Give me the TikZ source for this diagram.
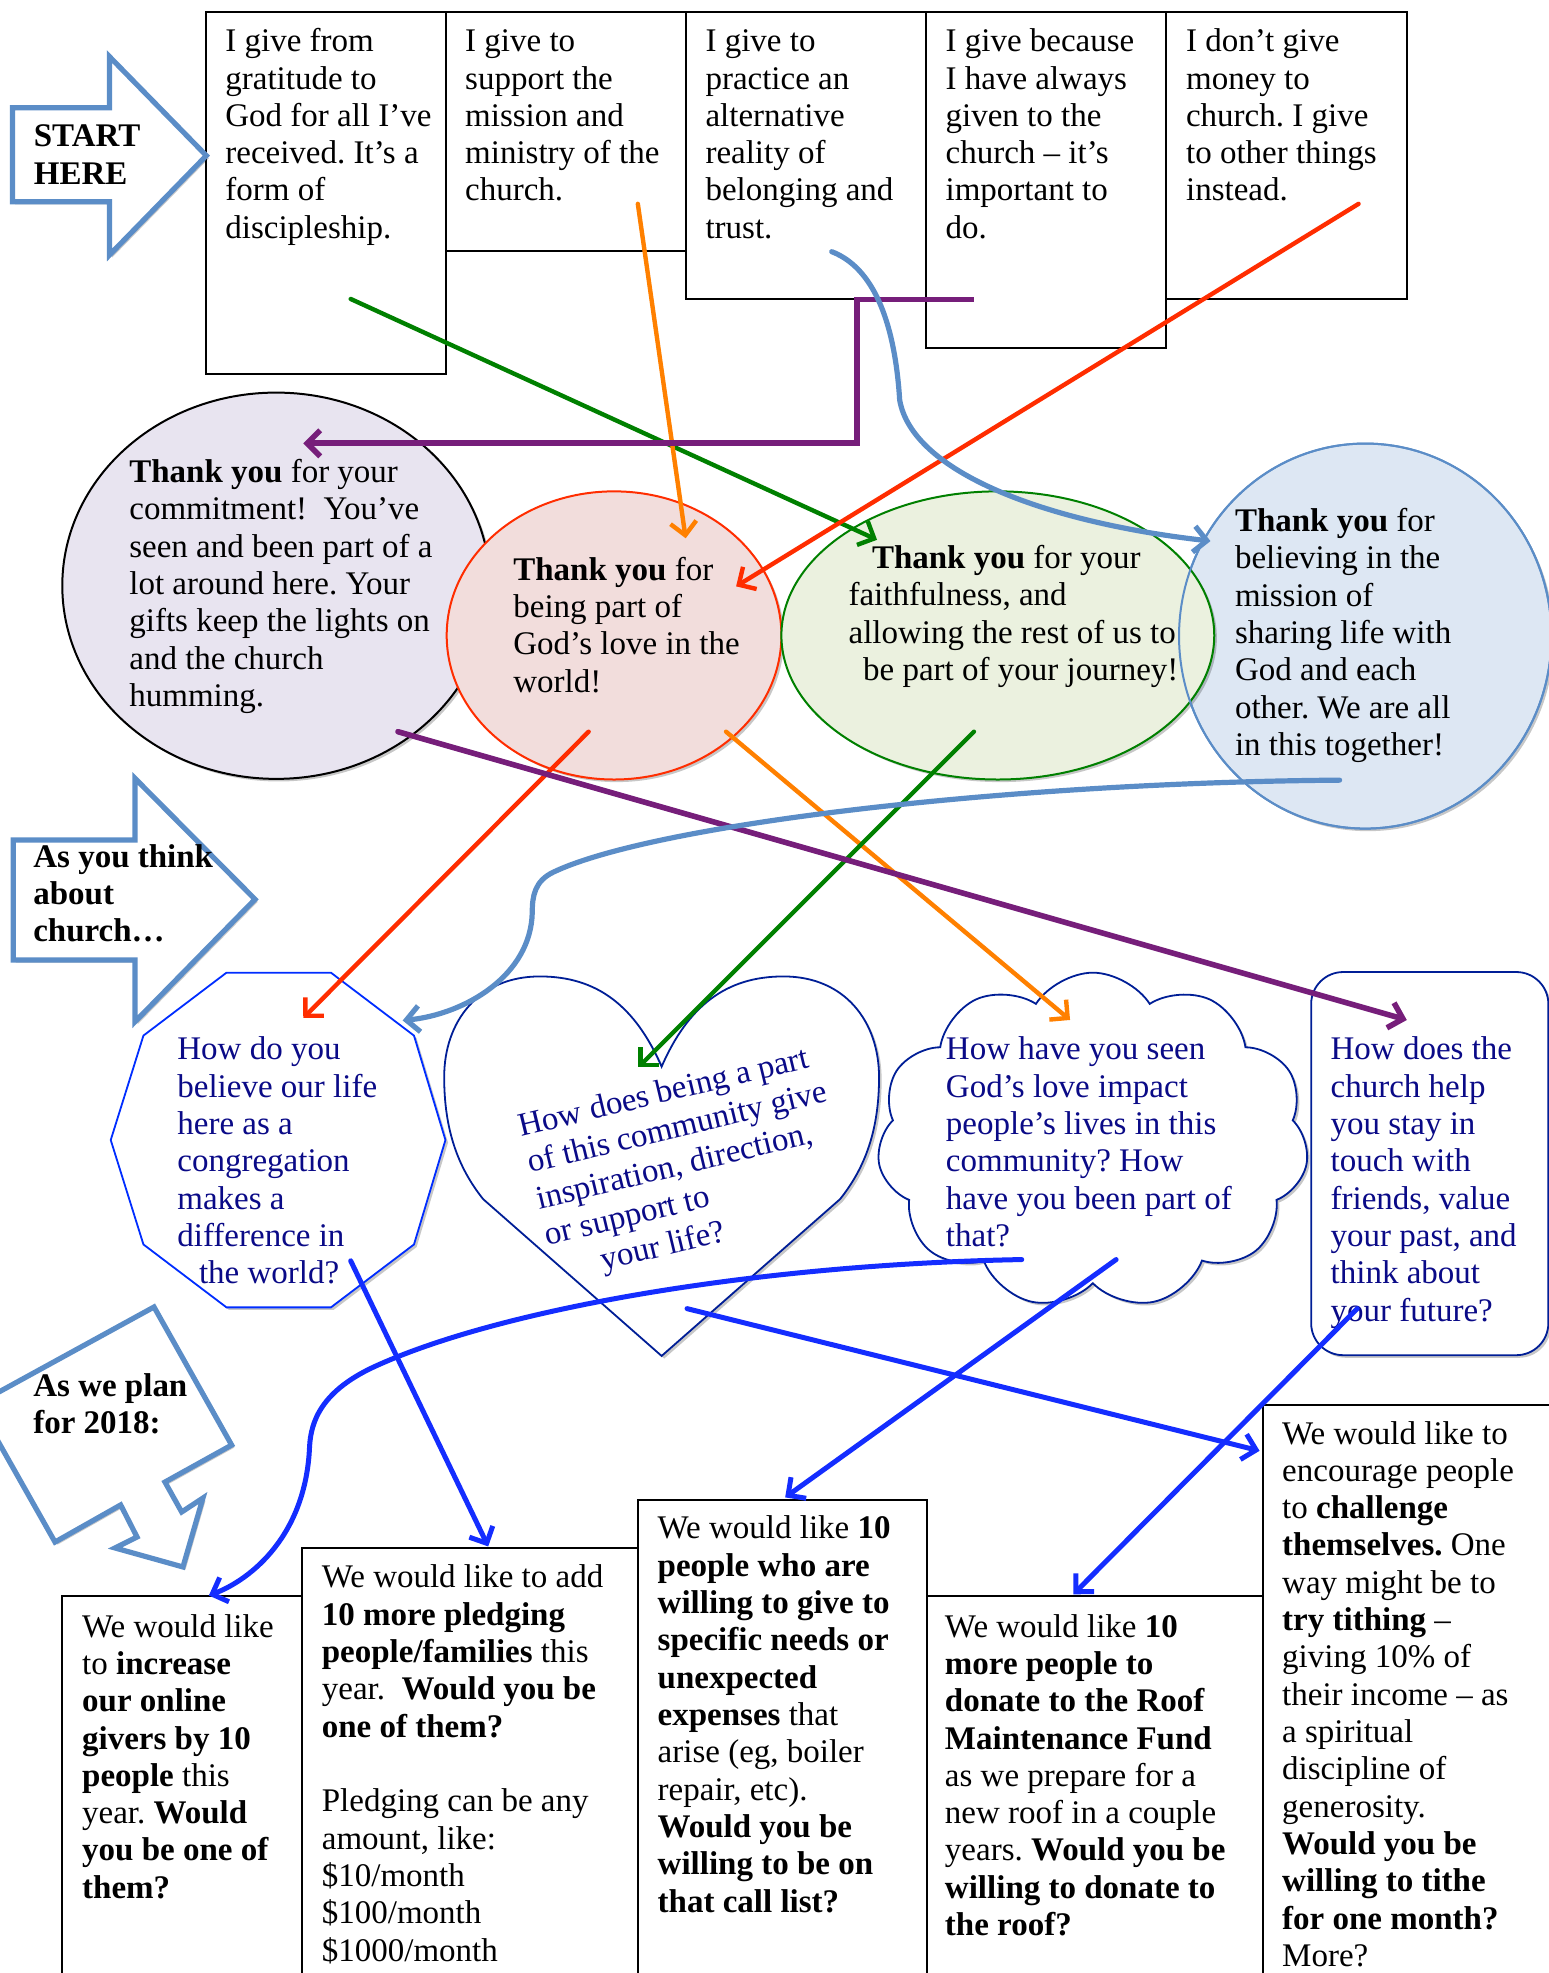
\documentclass[tikz,border=0pt]{standalone}
\usepackage{fontspec}
\setmainfont{Liberation Serif}
\usetikzlibrary{arrows.meta,shapes.geometric,shapes.symbols,shadows}
\definecolor{lblue}{RGB}{91,141,199}
\definecolor{ered}{RGB}{255,45,0}
\definecolor{eorange}{RGB}{255,128,0}
\definecolor{egreen}{RGB}{0,128,0}
\definecolor{epurple}{RGB}{118,30,122}
\definecolor{bblue}{RGB}{20,45,255}
\definecolor{navyq}{RGB}{10,10,135}
\definecolor{navyb}{RGB}{0,30,150}
\definecolor{octb}{RGB}{0,45,255}
\definecolor{fillA}{RGB}{232,228,240}
\definecolor{fillB}{RGB}{242,221,220}
\definecolor{fillC}{RGB}{235,241,223}
\definecolor{fillD}{RGB}{221,231,243}
\frenchspacing
\newcommand\tb[2]{\parbox[t]{#1}{\raggedright\fontsize{16.5pt}{18.66pt}\selectfont #2}}
\newcommand\bx[5]{\node[boxst, minimum width={(#4-#2)*0.6292pt}, minimum height={(#5-#3)*0.6292pt}] (#1) at ({(#2+#4)/2},{(#3+#5)/2}) {};}
\newcommand\el[6]{\node[ellst, draw=#5, fill=#6, minimum width={#4*0.6292pt}, minimum height={#3*0.6292pt}] (#1) at (#2) {};}
\tikzset{
  boxst/.style={draw=black, line width=1pt, fill=white, inner sep=0pt, outer sep=0pt, rectangle},
  ellst/.style={ellipse, line width=1pt, inner sep=0pt, outer sep=0pt, shad},
  shad/.style={drop shadow={shadow xshift=1.3pt, shadow yshift=-1.3pt, opacity=0.22, fill=black}},
  tx/.style={anchor=base west, inner sep=0pt, outer sep=0pt},
  qtx/.style={tx, text=navyq},
  bigarrow/.style={draw=lblue, line width=2.6pt, fill=white, line join=miter, shad},
  conn/.style={line width=2.2pt, -{Straight Barb[length=6.5pt,width=13pt]}, line cap=round, line join=round},
}
\begin{document}
\begin{tikzpicture}[x=0.6292pt,y=-0.6292pt]
\useasboundingbox (0,0) rectangle (1231,1568);
\begin{scope}
\clip (0,0) rectangle (1231,1568);

% ---- top boxes ----
\bx{B1}{163.7}{9.5}{354.7}{297.5}
\bx{B2}{354.7}{9.5}{544.9}{199.7}
\bx{B3}{544.9}{9.5}{736.1}{237.9}
\bx{B4}{736.1}{9.5}{927}{276.3}
\bx{B5}{927}{9.5}{1118}{237.9}

% ---- big arrows ----
\draw[bigarrow] (9.9,85.6) -- (87,85.6) -- (87,45) -- (164,123.7) -- (87,202.7) -- (87,160.3) -- (9.9,160.3) -- cycle;
\draw[bigarrow] (10.6,667.6) -- (107.3,667.6) -- (107.3,618.6) -- (202.7,714.7) -- (107.3,812) -- (107.3,763) -- (10.6,763) -- cycle;
\draw[bigarrow] (-18.3,1115.8) -- (122.4,1038.7) -- (184.1,1148.4) -- (131.1,1177.8) -- (144.4,1201.6) -- (161.3,1190.5) -- (145.4,1245.3) -- (91.4,1230.2) -- (108.9,1221.5) -- (95.9,1196.0) -- (43.7,1225.5) -- cycle;

% ---- thank-you ellipses ----
\el{E1}{219.5,465.5}{307}{340}{black}{fillA}
\el{E2}{488,505}{229}{266}{ered}{fillB}
\el{E4}{1085,505.5}{306}{296}{lblue}{fillD}
\el{E3}{793,505}{229}{344}{egreen}{fillC}
\draw[lblue, line width=1pt] (E4.center) ellipse [x radius=148, y radius=153];

% ---- question shapes ----
\draw[octb, line width=0.9pt, fill=white, shad] (180,773) -- (263,773) -- (329,823) -- (354,906) -- (329,989) -- (263,1039) -- (180,1039) -- (114,989) -- (88,906) -- (114,823) -- cycle;
\coordinate (OCT) at (221,906);
\draw[navyb, line width=0.9pt, fill=white, shad] (525.8,847.7) .. controls (505,800) and (475,776) .. (429,776) .. controls (380,776) and (353,812) .. (353,856) .. controls (353,898) and (364,928) .. (384,953) -- (525.8,1077.6) -- (667.6,953) .. controls (687.6,928) and (698.6,898) .. (698.6,856) .. controls (698.6,812) and (671.6,776) .. (622.6,776) .. controls (576.6,776) and (546.6,800) .. cycle;
\coordinate (HEART) at (525.8,930);
\node[cloud, cloud puffs=11, cloud puff arc=115, aspect=1.28, draw=navyb, line width=0.9pt, fill=white, shad, minimum width=343*0.6292pt, minimum height=267*0.6292pt, inner sep=0pt] (CLD) at (868.5,906.5) {};
\draw[navyb, line width=0.9pt, fill=white, rounded corners=16pt, shad] (1042,772.5) rectangle (1230.5,1077);
\coordinate (RR) at (1136,925);

% ---- bottom boxes ----
\bx{C1}{49.4}{1268}{240}{1575}
\bx{C2}{240}{1230.5}{507.3}{1575}
\bx{C3}{507.3}{1192.3}{736.5}{1575}
\bx{C4}{736.5}{1268}{1003.4}{1575}
\bx{C5}{1003.4}{1116.3}{1235}{1575}

% ---- texts ----
\node[tx] (tS) at (26.9,116.6) {\tb{200pt}{\bfseries START\\HERE}};
\node[tx] (tT) at (26.5,689.3) {\tb{200pt}{\bfseries As you think\\about\\church…}};
\node[tx] (tP) at (26.5,1109.5) {\tb{200pt}{\bfseries As we plan\\for 2018:}};

\node[tx] (tB1) at (179.1,41.1) {\tb{250pt}{I give from\\gratitude to\\God for all I’ve\\received. It’s a\\form of\\discipleship.}};
\node[tx] (tB2) at (369.7,41.1) {\tb{250pt}{I give to\\support the\\mission and\\ministry of the\\church.}};
\node[tx] (tB3) at (560.7,41.1) {\tb{250pt}{I give to\\practice an\\alternative\\reality of\\belonging and\\trust.}};
\node[tx] (tB4) at (751.5,41.1) {\tb{250pt}{I give because\\I have always\\given to the\\church – it’s\\important to\\do.}};
\node[tx] (tB5) at (942.6,41.1) {\tb{250pt}{I don’t give\\money to\\church. I give\\to other things\\instead.}};

\node[tx] (tE1) at (102.8,383.6) {\tb{250pt}{\textbf{Thank you} for your\\commitment!\ \ You’ve\\seen and been part of a\\lot around here. Your\\gifts keep the lights on\\and the church\\humming.}};
\node[tx] (tE2) at (408,461) {\tb{250pt}{\textbf{Thank you} for\\being part of\\God’s love in the\\world!}};
\node[tx] (tE3) at (674.4,451.7) {\tb{250pt}{\hspace*{11.7pt}\textbf{Thank you} for your\\faithfulness, and\\allowing the rest of us to\\\hspace*{7.3pt}be part of your journey!}};
\node[tx] (tE4) at (981.5,422.5) {\tb{250pt}{\textbf{Thank you} for\\believing in the\\mission of\\sharing life with\\God and each\\other. We are all\\in this together!}};

\node[qtx] (tQ1) at (141,842.4) {\tb{250pt}{How do you\\believe our life\\here as a\\congregation\\makes a\\difference in\\\hspace*{10.8pt}the world?}};
\node[qtx, rotate=13.5] (tQ2) at (414.6,903.3) {\tb{250pt}{How does being a part\\of this community give\\inspiration, direction,\\or support to\\\hspace*{24pt}your life?}};
\node[qtx] (tQ3) at (751.8,842.4) {\tb{250pt}{How have you seen\\God’s love impact\\people’s lives in this\\community? How\\have you been part of\\that?}};
\node[qtx] (tQ4) at (1057.5,842.4) {\tb{250pt}{How does the\\church help\\you stay in\\touch with\\friends, value\\your past, and\\think about\\your future?}};

\node[tx] (tC1) at (65.3,1301) {\tb{250pt}{We would like\\to \textbf{increase}\\\textbf{our online}\\\textbf{givers by 10}\\\textbf{people} this\\year. \textbf{Would}\\\textbf{you be one of}\\\textbf{them?}}};
\node[tx] (tC2) at (255.8,1262) {\tb{250pt}{We would like to add\\\textbf{10 more pledging}\\\textbf{people/families} this\\year.\ \ \textbf{Would you be}\\\textbf{one of them?}\\[18.66pt]Pledging can be any\\amount, like:\\\$10/month\\\$100/month\\\$1000/month}};
\node[tx] (tC3) at (522.7,1223) {\tb{250pt}{We would like \textbf{10}\\\textbf{people who are}\\\textbf{willing to give to}\\\textbf{specific needs or}\\\textbf{unexpected}\\\textbf{expenses} that\\arise (eg, boiler\\repair, etc).\\\textbf{Would you be}\\\textbf{willing to be on}\\\textbf{that call list?}}};
\node[tx] (tC4) at (751,1301) {\tb{250pt}{We would like \textbf{10}\\\textbf{more people to}\\\textbf{donate to the Roof}\\\textbf{Maintenance Fund}\\as we prepare for a\\new roof in a couple\\years. \textbf{Would you be}\\\textbf{willing to donate to}\\\textbf{the roof?}}};
\node[tx] (tC5) at (1019,1147.6) {\tb{250pt}{We would like to\\encourage people\\to \textbf{challenge}\\\textbf{themselves.} One\\way might be to\\\textbf{try tithing} –\\giving 10\% of\\their income – as\\a spiritual\\discipline of\\generosity.\\\textbf{Would you be}\\\textbf{willing to tithe}\\\textbf{for one month?}\\More?}};

% ---- connector end points ----
\coordinate (g1s) at (278.7,237.6); \coordinate (g1e) at (697,429);
\coordinate (o1s) at (506.9,162);   \coordinate (o1e) at (544.9,427.8);
\coordinate (r1s) at (1079.7,162);  \coordinate (r1e) at (585,466);
\coordinate (p1s) at (774,237.9);   \coordinate (p1a) at (681,237.9);
\coordinate (p1b) at (681,352.3);   \coordinate (p1e) at (241,352.3);
\coordinate (lb1s) at (661,200);    \coordinate (lb1e) at (962,430);
\coordinate (r2s) at (467.8,581.5); \coordinate (r2e) at (241,809);
\coordinate (o2s) at (577,581.5);   \coordinate (o2e) at (850.4,810.6);
\coordinate (g2s) at (774,581.5);   \coordinate (g2e) at (507.3,848.2);
\coordinate (p2s) at (316.3,581.5); \coordinate (p2e) at (1118,810.6);
\coordinate (lb2s) at (1064.6,620); \coordinate (lb2e) at (320,811);
\coordinate (b1s) at (278.7,1002);  \coordinate (b1e) at (388,1229);
\coordinate (b2s) at (812,1001);    \coordinate (b2e) at (166,1268);
\coordinate (b3s) at (546,1040);    \coordinate (b3e) at (1001,1153);
\coordinate (b4s) at (887,1001);    \coordinate (b4e) at (624,1190);
\coordinate (b5s) at (1078.6,1040); \coordinate (b5e) at (853,1267);

% ---- connectors ----
\draw[conn, egreen] (g1s) -- (g1e);
\draw[conn, eorange] (o1s) -- (o1e);
\draw[conn, ered] (r1s) -- (r1e);
\draw[conn, epurple, line width=2.8pt, line join=miter, line cap=butt] (p1s) -- (p1a) -- (p1b) -- (p1e);
\draw[conn, lblue, line width=2.6pt] (lb1s) .. controls (700,215) and (712,270) .. (715,318) .. controls (725,375) and (830,415) .. (lb1e);
\draw[conn, ered] (r2s) -- (r2e);
\draw[conn, eorange] (o2s) -- (o2e);
\draw[conn, egreen] (g2s) -- (g2e);
\draw[conn, epurple, line width=2.8pt] (p2s) -- (p2e);
\draw[conn, lblue, line width=2.6pt] (lb2s) .. controls (800,622) and (520,655) .. (440,693) .. controls (425,700) and (423,712) .. (423,725) .. controls (422,775) and (370,806) .. (lb2e);
\draw[conn, bblue, line width=2.5pt] (b1s) -- (b1e);
\draw[conn, bblue, line width=2.5pt] (b2s) .. controls (600,1005) and (400,1040) .. (300,1085) .. controls (255,1105) and (247,1130) .. (246,1150) .. controls (243,1220) and (200,1255) .. (b2e);
\draw[conn, bblue, line width=2.5pt] (b3s) -- (b3e);
\draw[conn, bblue, line width=2.5pt] (b4s) -- (b4e);
\draw[conn, bblue, line width=2.5pt] (b5s) -- (b5e);
\end{scope}
\end{tikzpicture}
\end{document}
